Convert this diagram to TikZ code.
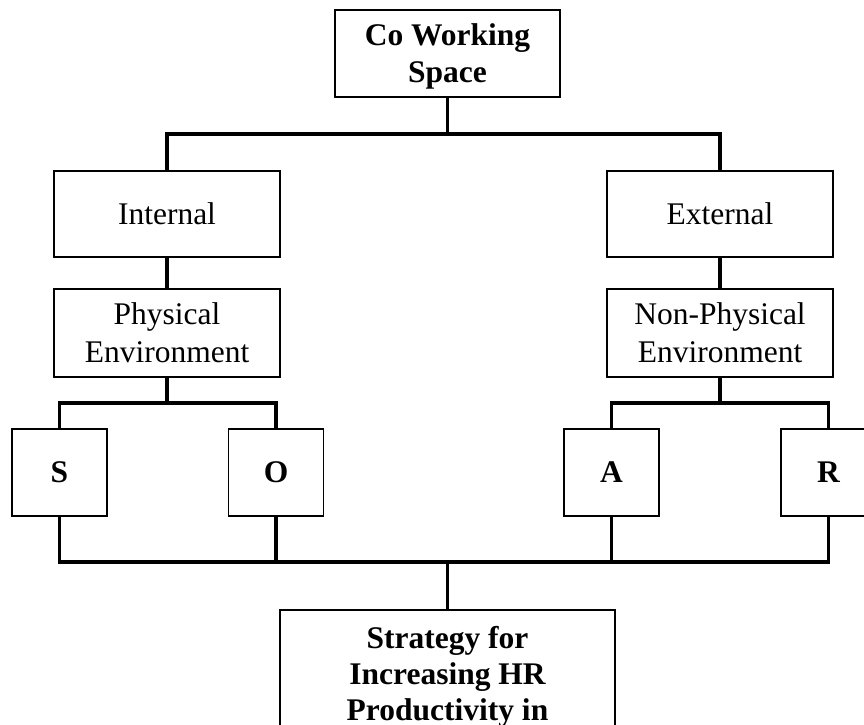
\documentclass[tikz,border=0pt]{standalone}
\usepackage{fontspec}
\setmainfont{Liberation Serif}
\begin{document}
\begin{tikzpicture}[x=1pt,y=-1pt,
    block/.style={draw,line width=1.8pt,inner sep=0pt,minimum width=226pt,
      minimum height=87pt,align=center,text depth=0pt,
      font=\fontsize{31.5}{38}\selectfont},
    letter/.style={block,minimum width=95pt,
      font=\fontsize{31.5}{38}\selectfont\bfseries},
    link/.style={line width=3.2pt}]
  \useasboundingbox (0,0) rectangle (864,724);
  \draw
    (447.5,53.5) node[block,minimum width=225pt,
      font=\fontsize{31.5}{37}\selectfont\bfseries] (space){Co Working\\Space}
    (167,214) node[block,minimum height=86pt] (internal){Internal}
    (720,214) node[block,minimum height=86pt] (external){External}
    (167,333) node[block,minimum height=88pt] (physical){Physical\\Environment}
    (720,333) node[block,minimum height=88pt] (nonphysical){Non-Physical\\Environment}
    (59.5,472.5) node[letter] (s){S}
    (276,472.5) node[letter] (o){O}
    (611.5,472.5) node[letter] (a){A}
    (828.5,472.5) node[letter] (r){R}
    (447.5,609) node[block,anchor=north,minimum width=335pt,minimum height=0pt,
      inner ysep=16pt,font=\fontsize{31.5}{36}\selectfont\bfseries]
      (strategy){Strategy for\\Increasing HR\\Productivity in};
  \coordinate (topbus) at (447.5,134);
  \coordinate (leftbus) at (167,403);
  \coordinate (rightbus) at (720,403);
  \coordinate (lowbus) at (447.5,562);
  \begin{scope}[link]
    \draw (space) to (topbus);
    \draw (topbus) -| (internal);
    \draw (topbus) -| (external);
    \draw (internal) to (physical);
    \draw (external) to (nonphysical);
    \draw (physical) to (leftbus);
    \draw (nonphysical) to (rightbus);
    \draw (leftbus) -| (s);
    \draw (leftbus) -| (o);
    \draw (rightbus) -| (a);
    \draw (rightbus) -| (r);
    \draw (s) |- (lowbus);
    \draw (o) |- (lowbus);
    \draw (a) |- (lowbus);
    \draw (r) |- (lowbus);
    \draw (lowbus) to (strategy);
  \end{scope}
\end{tikzpicture}
\end{document}
